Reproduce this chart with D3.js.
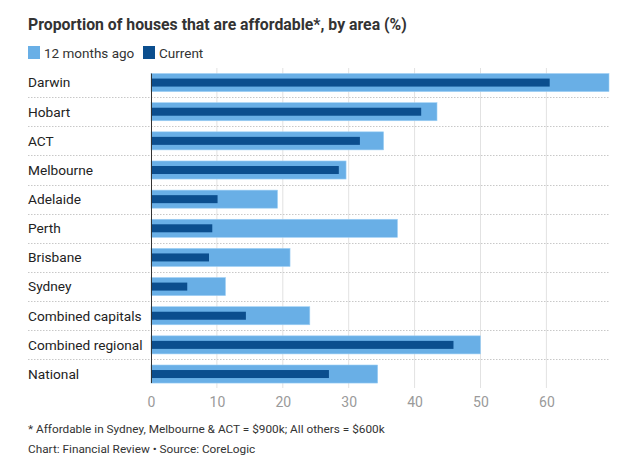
<!DOCTYPE html>
<html><head><meta charset="utf-8">
<script src="https://cdn.jsdelivr.net/npm/d3@7"></script>
<style>
body{margin:0;background:#fff;}
svg text{font-family:Roboto, "Noto Sans", sans-serif;}
</style></head>
<body><svg id="c" width="632" height="465"></svg>
<script>
const categories = ["Darwin","Hobart","ACT","Melbourne","Adelaide","Perth","Brisbane","Sydney","Combined capitals","Combined regional","National"];
const agoValues = [69.5,43.4,35.3,29.6,19.2,37.4,21.1,11.3,24.1,50.0,34.4];
const currentValues = [60.5,41.0,31.7,28.5,10.1,9.3,8.8,5.5,14.4,45.9,27.0];
const tickValues = [0,10,20,30,40,50,60];
const seriesNames = ["12 months ago","Current"];
const title = "Proportion of houses that are affordable*, by area (%)";
const footnote = "* Affordable in Sydney, Melbourne & ACT = $900k; All others = $600k";
const source = "Chart: Financial Review \u2022 Source: CoreLogic";

const light = "#69afe6", dark = "#0b4e8e";
const svg = d3.select("#c");
const x = d3.scaleLinear().domain([0,69.5]).range([151,609]);
const y = d3.scaleBand().domain(categories).range([68,388.6]).paddingInner(0.38).paddingOuter(0.19);
const step = y.step();

svg.append("text").attr("x",28).attr("y",30).attr("font-size",15.8).attr("font-weight","bold").attr("fill","#333").text(title);

const leg = svg.append("g");
[[light,28,seriesNames[0]],[dark,143,seriesNames[1]]].forEach(([c,lx,t])=>{
  leg.append("rect").attr("x",lx).attr("y",46).attr("width",12).attr("height",13).attr("fill",c);
  leg.append("text").attr("x",lx+16).attr("y",58).attr("font-size",13.5).attr("fill","#333").text(t);
});

// vertical gridlines
svg.append("g").selectAll("line").data(tickValues.filter(d=>d>0)).join("line")
  .attr("x1",d=>x(d)).attr("x2",d=>x(d)).attr("y1",68).attr("y2",388)
  .attr("stroke","#e2e2e2").attr("stroke-width",1);

// row separators
svg.append("g").selectAll("line").data(categories.slice(1)).join("line")
  .attr("x1",28).attr("x2",609)
  .attr("y1",d=>Math.round(y(d)-(step-y.bandwidth())/2)+0.5).attr("y2",d=>Math.round(y(d)-(step-y.bandwidth())/2)+0.5)
  .attr("stroke","#c8c8c8").attr("stroke-dasharray","1.5,1.5");

// bars
const lh = y.bandwidth(), dh = 8;
svg.append("g").selectAll("rect").data(categories).join("rect")
  .attr("x",x(0)).attr("y",d=>y(d)).attr("height",lh)
  .attr("width",(d,i)=>x(agoValues[i])-x(0)).attr("fill",light)
  .attr("stroke","#9fd0f5").attr("stroke-width",0.6);
svg.append("g").selectAll("rect").data(categories).join("rect")
  .attr("x",x(0)).attr("y",d=>y(d)+lh/2-dh/2).attr("height",dh)
  .attr("width",(d,i)=>x(currentValues[i])-x(0)).attr("fill",dark);

// category labels
svg.append("g").selectAll("text").data(categories).join("text")
  .attr("x",28).attr("y",d=>y(d)+lh/2).attr("dy","0.35em")
  .attr("font-size",13.7).attr("fill","#222").text(d=>d);

// axis line
svg.append("line").attr("x1",x(0)+0.5).attr("x2",x(0)+0.5).attr("y1",y(categories[0])).attr("y2",y(categories[categories.length-1])+lh)
  .attr("stroke","#333").attr("stroke-width",1);

// x axis
const ax = svg.append("g").attr("transform","translate(0,389)")
  .call(d3.axisBottom(x).tickValues(tickValues).tickSize(0).tickPadding(8));
ax.select(".domain").remove();
ax.selectAll("text").attr("font-size",14).attr("fill","#9a9a9a").attr("font-family","Roboto, sans-serif");

svg.append("text").attr("x",28).attr("y",433).attr("font-size",11.8).attr("fill","#333").text(footnote);
svg.append("text").attr("x",28).attr("y",453).attr("font-size",11.8).attr("fill","#333").text(source);
</script></body></html>
